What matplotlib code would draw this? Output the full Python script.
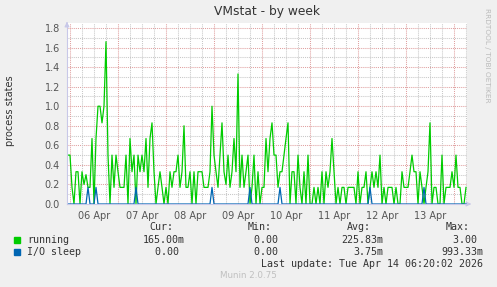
import numpy as np
import matplotlib.pyplot as plt

# hourly samples of "running", first sample at Apr 5 23:00 (hour -1 from Apr 6 00:00)
start_hour = -1
running = (
    [0.5]
    # 06 Apr
    + [0.5, 0.17, 0, 0.33, 0.33, 0, 0.33, 0.2, 0.3, 0.17, 0.17, 0.67,
       0, 0.67, 1.0, 1.0, 0.83, 1.0, 1.66, 0.5, 0, 0.5, 0.17, 0.5]
    # 07 Apr
    + [0.33, 0.17, 0.17, 0.17, 0.5, 0, 0.67, 0.33, 0.5, 0, 0.5, 0.33,
       0.5, 0.33, 0.67, 0.17, 0.67, 0.83, 0.33, 0, 0.17, 0.33, 0.17, 0]
    # 08 Apr
    + [0.17, 0, 0.33, 0.17, 0.33, 0.33, 0.5, 0.17, 0.33, 0.8, 0.17, 0.17,
       0.33, 0, 0.33, 0, 0.33, 0.33, 0.33, 0.17, 0.17, 0.17, 0.33, 1.0]
    # 09 Apr
    + [0.5, 0.33, 0.17, 0.5, 0.83, 0.33, 0.2, 0.5, 0.17, 0.33, 0.67, 0.33,
       1.33, 0.17, 0.5, 0.17, 0.33, 0.5, 0, 0.17, 0.5, 0, 0.33, 0]
    # 10 Apr
    + [0.17, 0.17, 0.67, 0.33, 0.67, 0.83, 0.5, 0.5, 0.17, 0.33, 0.33, 0.5,
       0.67, 0.83, 0, 0.33, 0.33, 0, 0.5, 0.17, 0, 0.33, 0, 0.5]
    # 11 Apr
    + [0, 0, 0.17, 0, 0.17, 0, 0.33, 0, 0.33, 0.17, 0.33, 0.67,
       0.33, 0, 0.17, 0, 0.17, 0.17, 0, 0.17, 0.17, 0.17, 0.17, 0]
    # 12 Apr
    + [0.33, 0, 0.17, 0.17, 0.33, 0, 0.17, 0.33, 0.17, 0.33, 0.17, 0.5,
       0, 0.17, 0, 0.17, 0.17, 0.17, 0, 0.17, 0, 0, 0.33, 0.17]
    # 13 Apr
    + [0.17, 0.17, 0.33, 0.5, 0.33, 0.33, 0, 0.33, 0.17, 0, 0.17, 0.33,
       0.83, 0, 0.17, 0.17, 0, 0, 0.5, 0, 0.17, 0.17, 0.17, 0.33]
    # 14 Apr
    + [0.17, 0.5, 0.17, 0.17, 0, 0, 0.17]
)

# I/O sleep is zero except for a few short spikes (hours from Apr 6 00:00)
io_spike_hours = [9, 13, 33, 71, 90, 105, 150, 177]
io_spike_values = [0.17, 0.17, 0.17, 0.17, 0.17, 0.17, 0.17, 0.17]

day_labels = ["06 Apr", "07 Apr", "08 Apr", "09 Apr", "10 Apr", "11 Apr", "12 Apr", "13 Apr"]
y_ticks = [0.0, 0.2, 0.4, 0.6, 0.8, 1.0, 1.2, 1.4, 1.6, 1.8]

legend_names = ["running", "I/O sleep"]
legend_cur = ["165.00m", "0.00 "]
legend_min = ["0.00 ", "0.00 "]
legend_avg = ["225.83m", "3.75m"]
legend_max = ["3.00 ", "993.33m"]

hours = np.arange(len(running)) + start_hour
t = hours / 24.0
io = np.zeros(len(running))
for h, v in zip(io_spike_hours, io_spike_values):
    io[h - start_hour] = v

W, H = 497, 287
fig = plt.figure(figsize=(W / 100, H / 100), dpi=100, facecolor='#f0f0f0')


def fx(px):
    return px / W


def fy(py):
    return 1 - py / H


ax = fig.add_axes([fx(67), fy(204), 400 / W, 181 / H])
ax.set_facecolor('white')
for s in ax.spines.values():
    s.set_visible(False)
ax.set_xlim(-3 / 48, 397 / 48)
ax.set_ylim(0, 1.851)

# grid: grey every 0.1 / 6 h, red every 0.2 / midnight
dot = (0, (1, 1))
for y in np.arange(0.1, 1.85, 0.1):
    major = abs(y / 0.2 - round(y / 0.2)) < 1e-6
    ax.axhline(y, color='#e0a0a0' if major else '#c8c8c8', lw=0.75, ls=dot, zorder=1)
for q in range(0, 34):
    x = q / 4
    ax.axvline(x, color='#e0a0a0' if q % 4 == 0 else '#c8c8c8', lw=0.75, ls=dot, zorder=1)

ax.plot(t, running, color='#00cc00', lw=0.9, zorder=3)
ax.plot(t, io, color='#0066b3', lw=0.9, zorder=4)

ax.set_xticks(np.arange(len(day_labels)) + 0.5)
ax.set_xticklabels(day_labels)
ax.set_yticks(y_ticks)
ax.set_yticklabels(["%.1f" % v for v in y_ticks])
ax.tick_params(length=0, labelsize=7, labelcolor='#555555', pad=5)

# axis lines with arrows
axis_col = '#c8c8e8'
fig.add_artist(plt.Line2D([fx(67), fx(67)], [fy(204), fy(24)], color=axis_col, lw=0.8))
fig.add_artist(plt.Line2D([fx(67), fx(468)], [fy(204), fy(204)], color=axis_col, lw=0.8))
ax.annotate('', xy=(fx(67), fy(19)), xytext=(fx(67), fy(26)), xycoords='figure fraction',
            arrowprops=dict(arrowstyle='-|>', color=axis_col, lw=0.8, mutation_scale=7))
ax.annotate('', xy=(fx(474), fy(204)), xytext=(fx(466), fy(204)), xycoords='figure fraction',
            arrowprops=dict(arrowstyle='-|>', color=axis_col, lw=0.8, mutation_scale=7))

fig.text(fx(267), fy(11), "VMstat - by week", ha='center', va='center', fontsize=8.8, color='#333333')
fig.text(fx(10), fy(111), "process states", rotation=90, ha='center', va='center',
         fontsize=7, color='#333333')
fig.text(fx(487), fy(8), "RRDTOOL / TOBI OETIKER", rotation=270, ha='center', va='top',
         fontsize=5.3, color='#bbbbbb')

mono = dict(family='DejaVu Sans Mono', fontsize=7.2, color='#333333', va='center')
fig.text(fx(173), fy(227), "Cur:", ha='right', **mono)
fig.text(fx(272), fy(227), "Min:", ha='right', **mono)
fig.text(fx(371), fy(227), "Avg:", ha='right', **mono)
fig.text(fx(470), fy(227), "Max:", ha='right', **mono)
colors = ['#00cc00', '#0066b3']
rows_y = [240, 252]
for i in range(2):
    yy = rows_y[i]
    fig.add_artist(plt.Rectangle((fx(14), fy(yy + 3)), 6 / W, 6 / H, color=colors[i]))
    fig.text(fx(27), fy(yy), legend_names[i], ha='left', **mono)
    fig.text(fx(185), fy(yy), legend_cur[i], ha='right', **mono)
    fig.text(fx(284), fy(yy), legend_min[i], ha='right', **mono)
    fig.text(fx(383), fy(yy), legend_avg[i], ha='right', **mono)
    fig.text(fx(483), fy(yy), legend_max[i], ha='right', **mono)
fig.text(fx(483), fy(264), "Last update: Tue Apr 14 06:20:02 2026", ha='right', **mono)
fig.text(fx(248), fy(276), "Munin 2.0.75", ha='center', va='center', fontsize=6.3, color='#c0c0c0')

fig.savefig("out.png", dpi=100, facecolor=fig.get_facecolor())
